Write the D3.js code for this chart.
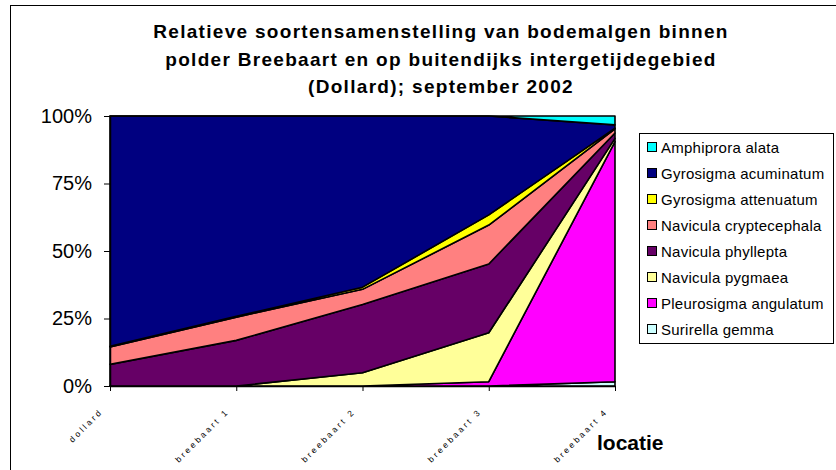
<!DOCTYPE html>
<html>
<head>
<meta charset="utf-8">
<script src="https://cdn.jsdelivr.net/npm/d3@7"></script>
<style>
  body { margin: 0; background: #fff; }
  svg { display: block; font-family: "Liberation Sans", Arial, sans-serif; }
</style>
</head>
<body>
<svg id="chart"></svg>
<script>
// locations along the x axis
const locations = ["dollard", "breebaart 1", "breebaart 2", "breebaart 3", "breebaart 4"];

// species, in legend order
const species = [
  "Amphiprora alata",
  "Gyrosigma acuminatum",
  "Gyrosigma attenuatum",
  "Navicula cryptecephala",
  "Navicula phyllepta",
  "Navicula pygmaea",
  "Pleurosigma angulatum",
  "Surirella gemma"
];

// share (%) per location
const amphiproraAlata       = [0,    0,    0,    0,    3.3];
const gyrosigmaAcuminatum   = [85.3, 74.2, 63.4, 36.6, 1.2];
const gyrosigmaAttenuatum   = [0.2,  0.3,  0.8,  3.8,  0.3];
const naviculaCryptecephala = [6.5,  8.6,  5.6,  14.4, 1.5];
const naviculaPhyllepta     = [8.0,  16.9, 25.3, 25.5, 2.0];
const naviculaPygmaea       = [0,    0,    4.9,  18.1, 1.2];
const pleurosigmaAngulatum  = [0,    0,    0,    1.6,  88.9];
const surirellaGemma        = [0,    0,    0,    0,    1.6];

const seriesValues = [
  amphiproraAlata, gyrosigmaAcuminatum, gyrosigmaAttenuatum, naviculaCryptecephala,
  naviculaPhyllepta, naviculaPygmaea, pleurosigmaAngulatum, surirellaGemma
];

const colors = ["#00FFFF", "#000080", "#FFFF00", "#FF8080", "#660066", "#FFFF99", "#FF00FF", "#CCFFFF"];

const yTicks = [0, 0.25, 0.5, 0.75, 1];

const titleLines = [
  "Relatieve soortensamenstelling van bodemalgen binnen",
  "polder Breebaart en op buitendijks intergetijdegebied",
  "(Dollard); september 2002"
];

const WIDTH = 836;
const HEIGHT = 470;
const PLOT = { LEFT: 110, RIGHT: 615, TOP: 116, BOTTOM: 386 };
const TITLE_X = 441;

let svg = d3.select("#chart")
  .attr("width", WIDTH)
  .attr("height", HEIGHT);

// outer chart frame (only left and top are inside the picture)
svg.append("rect")
  .attr("x", 10.5)
  .attr("y", 5.5)
  .attr("width", WIDTH)
  .attr("height", HEIGHT)
  .attr("fill", "#fff")
  .attr("stroke", "#000")
  .attr("stroke-width", 1);

// title, centred on the (wider) chart area
svg.append("text")
  .attr("x", TITLE_X)
  .attr("y", 38)
  .attr("text-anchor", "middle")
  .style("font-size", "19px")
  .style("font-weight", "bold")
  .style("letter-spacing", "1.3px")
  .selectAll("tspan")
  .data(titleLines)
  .enter()
    .append("tspan")
    .attr("x", TITLE_X)
    .attr("dy", (d, i) => i === 0 ? 0 : 27.5)
    .text(d => d);

// data rows for d3.stack
let rows = locations.map((loc, i) => {
  let row = { location: loc };
  species.forEach((s, j) => { row[s] = seriesValues[j][i]; });
  return row;
});

// bottom of the stack is the last legend entry
let stackKeys = species.slice().reverse();
let stacked = d3.stack()
  .keys(stackKeys)
  .offset(d3.stackOffsetExpand)(rows);

let xScale = d3.scalePoint()
  .domain(locations)
  .range([PLOT.LEFT, PLOT.RIGHT]);
let yScale = d3.scaleLinear()
  .domain([0, 1])
  .range([PLOT.BOTTOM, PLOT.TOP]);

let area = d3.area()
  .x(d => xScale(d.data.location))
  .y0(d => yScale(d[0]))
  .y1(d => yScale(d[1]));

svg.append("g")
  .selectAll("path")
  .data(stacked)
  .enter()
    .append("path")
    .attr("d", area)
    .attr("fill", d => colors[species.indexOf(d.key)])
    .attr("stroke", "#000")
    .attr("stroke-width", 1.6)
    .attr("stroke-linejoin", "round");

// y axis
let yAxis = svg.append("g")
  .attr("transform", `translate(${PLOT.LEFT},0)`)
  .call(d3.axisLeft(yScale)
    .tickValues(yTicks)
    .tickFormat(d3.format(".0%"))
    .tickSize(6)
    .tickSizeOuter(0)
    .tickPadding(12));
yAxis.select(".domain").attr("stroke", "#000").attr("stroke-width", 1.5);
yAxis.selectAll(".tick line").attr("stroke", "#000");
yAxis.selectAll(".tick text")
  .attr("fill", "#000")
  .style("font-size", "20px")
  .style("font-family", "\"Liberation Sans\", Arial, sans-serif");

// x axis
let xAxis = svg.append("g")
  .attr("transform", `translate(0,${PLOT.BOTTOM})`)
  .call(d3.axisBottom(xScale).tickSize(5).tickSizeOuter(0));
xAxis.select(".domain").attr("stroke", "#000").attr("stroke-width", 1.5);
xAxis.selectAll(".tick line").attr("stroke", "#000");
xAxis.selectAll(".tick text")
  .attr("fill", "#000")
  .attr("text-anchor", "end")
  .attr("dy", null)
  .attr("y", 0)
  .attr("transform", "translate(-7,26) rotate(-45)")
  .style("font-size", "8.5px")
  .style("letter-spacing", "2.6px")
  .style("font-family", "\"Liberation Sans\", Arial, sans-serif");

// x axis title
svg.append("text")
  .attr("x", 597)
  .attr("y", 450)
  .style("font-size", "21px")
  .style("font-weight", "bold")
  .text("locatie");

// legend
const LEGEND = { X: 639, Y: 133, W: 194, H: 210, ROW: 26 };
svg.append("rect")
  .attr("x", LEGEND.X + 0.5)
  .attr("y", LEGEND.Y + 0.5)
  .attr("width", LEGEND.W)
  .attr("height", LEGEND.H)
  .attr("fill", "#fff")
  .attr("stroke", "#000");

let legendItems = svg.append("g")
  .selectAll("g")
  .data(species)
  .enter()
    .append("g")
    .attr("transform", (d, i) => `translate(${LEGEND.X + 8},${LEGEND.Y + 14 + i * LEGEND.ROW})`);

legendItems.append("rect")
  .attr("x", 0.5)
  .attr("y", -4.5)
  .attr("width", 9)
  .attr("height", 9)
  .attr("fill", (d, i) => colors[i])
  .attr("stroke", "#000");

legendItems.append("text")
  .attr("x", 14)
  .attr("y", 5.5)
  .style("font-size", "15px")
  .style("letter-spacing", "0.25px")
  .text(d => d);
</script>
</body>
</html>
